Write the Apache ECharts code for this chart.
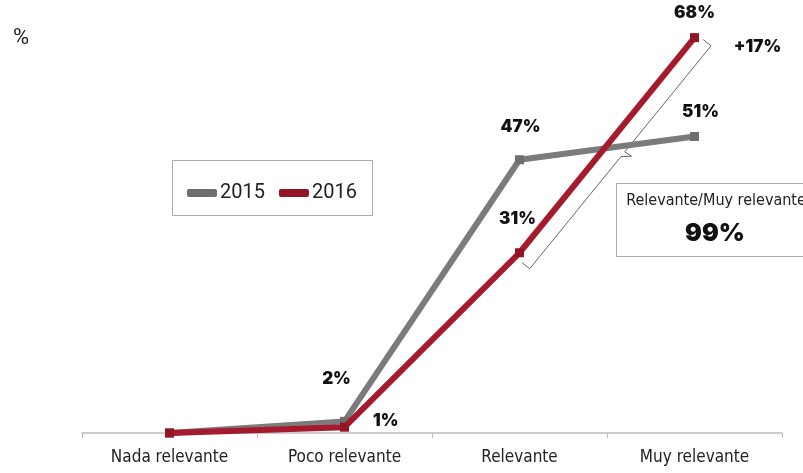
<!DOCTYPE html>
<html>
<head>
<meta charset="utf-8">
<script src="https://cdn.jsdelivr.net/npm/echarts@6/dist/echarts.min.js"></script>
<style>
html,body{margin:0;padding:0;background:#fff;}
#c{width:803px;height:473px;}
</style>
</head>
<body>
<div id="c"></div>
<script>
var categories = ['Nada relevante', 'Poco relevante', 'Relevante', 'Muy relevante'];
var values2015 = [0, 2, 47, 51];
var values2016 = [0, 1, 31, 68];
var seriesNames = ['2015', '2016'];
var summaryTitle = 'Relevante/Muy relevante';

var RED = '#a51b2d', GRAY = '#7b7b7b';
var valueFont = 'Inter, "DejaVu Sans", sans-serif';
var catFont = '"Liberation Sans Narrow", "DejaVu Sans Condensed", "Roboto", sans-serif';

// label placements (offsets only)
var off2015 = [null, [-8, -24], [1, -15], [6, -7]];
var off2016 = [null, [19, -6], [-2, -16], [0, -7]];

function mk(vals, offs) {
  return vals.map(function (v, i) {
    var item = { value: v };
    if (offs[i]) {
      item.label = { show: true, position: offs === off2016 && i === 1 ? 'right' : 'top', offset: offs[i] };
    } else {
      item.label = { show: false };
    }
    return item;
  });
}

var chart = echarts.init(document.getElementById('c'));
var labelStyle = {
  formatter: '{c}%', color: '#111', fontFamily: valueFont, fontWeight: 900, fontSize: 17
};
chart.setOption({
  animation: false,
  grid: { left: 82, right: 21, top: 26, bottom: 40 },
  xAxis: {
    type: 'category', data: categories, boundaryGap: true,
    axisLine: { lineStyle: { color: '#bdbdbd', width: 1.5 } },
    axisTick: { show: true, alignWithLabel: false, length: 5, lineStyle: { color: '#bdbdbd' } },
    axisLabel: { color: '#222', fontFamily: catFont, fontSize: 17, margin: 16 }
  },
  yAxis: { type: 'value', min: 0, max: 70, show: false, splitLine: { show: false } },
  legend: {
    left: 182, top: 178, itemWidth: 30, itemHeight: 8, itemGap: 14,
    icon: 'roundRect',
    textStyle: { fontFamily: 'Roboto, "Open Sans", sans-serif', fontSize: 20, color: '#222', padding: [0, 0, 0, -2] },
    data: seriesNames
  },
  series: [
    {
      name: seriesNames[0], type: 'line', data: mk(values2015, off2015),
      color: GRAY, lineStyle: { width: 6, color: GRAY }, symbol: 'rect', symbolSize: 9,
      itemStyle: { color: '#6e6e6e' }, label: labelStyle, z: 2
    },
    {
      name: seriesNames[1], type: 'line', data: mk(values2016, off2016),
      color: RED, lineStyle: { width: 6, color: RED }, symbol: 'rect', symbolSize: 9,
      itemStyle: { color: '#921425' }, label: labelStyle, z: 3
    }
  ]
});

// annotations computed from the scales
var pTop = chart.convertToPixel({ gridIndex: 0 }, [3, values2016[3]]);
var pRel = chart.convertToPixel({ gridIndex: 0 }, [2, values2016[2]]);
var dx = pTop[0] - pRel[0], dy = pTop[1] - pRel[1];
var L = Math.sqrt(dx * dx + dy * dy);
var ux = dx / L, uy = dy / L;        // along line
var nx = -uy, ny = ux;               // normal
if (nx < 0) { nx = -nx; ny = -ny; }   // to the right side
var o = 18, cap = 10;
function pt(base, a, n) { return [base[0] + ux * a + nx * n, base[1] + uy * a + ny * n]; }
var b0 = pt(pRel, -6, o - cap), b1 = pt(pRel, -6, o);
var mid = (L + 4 - 6) / 2 + 4;
var m0 = pt(pRel, mid - 3, o), m1 = pt(pRel, mid + 4, o + 8), m2 = pt(pRel, mid + 3, o);
var t1 = pt(pRel, L + 4, o), t0 = pt(pRel, L + 4, o - cap);
var diff = values2016[3] - values2015[3];
var total = values2016[2] + values2016[3];

chart.setOption({
  graphic: [
    { type: 'text', left: 13, top: 27, style: { text: '%', fontSize: 22, fontFamily: 'Roboto, sans-serif', fill: '#222' } },
    { type: 'rect', shape: { x: 172.5, y: 160.5, width: 200, height: 55 }, style: { fill: 'none', stroke: '#aaa', lineWidth: 1 }, z: -1 },
    { type: 'polyline', shape: { points: [b0, b1, m0, m1, m2, t1, t0] }, style: { stroke: '#666', lineWidth: 1, fill: 'none' } },
    { type: 'text', x: pTop[0] + 63, y: pTop[1] + 9, style: { text: '+' + diff + '%', fontSize: 17, fontWeight: 900, fontFamily: valueFont, fill: '#111', textAlign: 'center', textVerticalAlign: 'middle' } },
    { type: 'rect', shape: { x: 616.5, y: 183.5, width: 200, height: 73 }, style: { fill: '#fff', stroke: '#aaa', lineWidth: 1 } },
    { type: 'text', x: 716, y: 201, style: { text: summaryTitle, fontSize: 16, fontFamily: catFont, fill: '#222', textAlign: 'center', textVerticalAlign: 'middle' } },
    { type: 'text', x: 715, y: 233, style: { text: total + '%', fontSize: 25, fontWeight: 900, fontFamily: valueFont, fill: '#111', textAlign: 'center', textVerticalAlign: 'middle' } }
  ]
});
</script>
</body>
</html>
